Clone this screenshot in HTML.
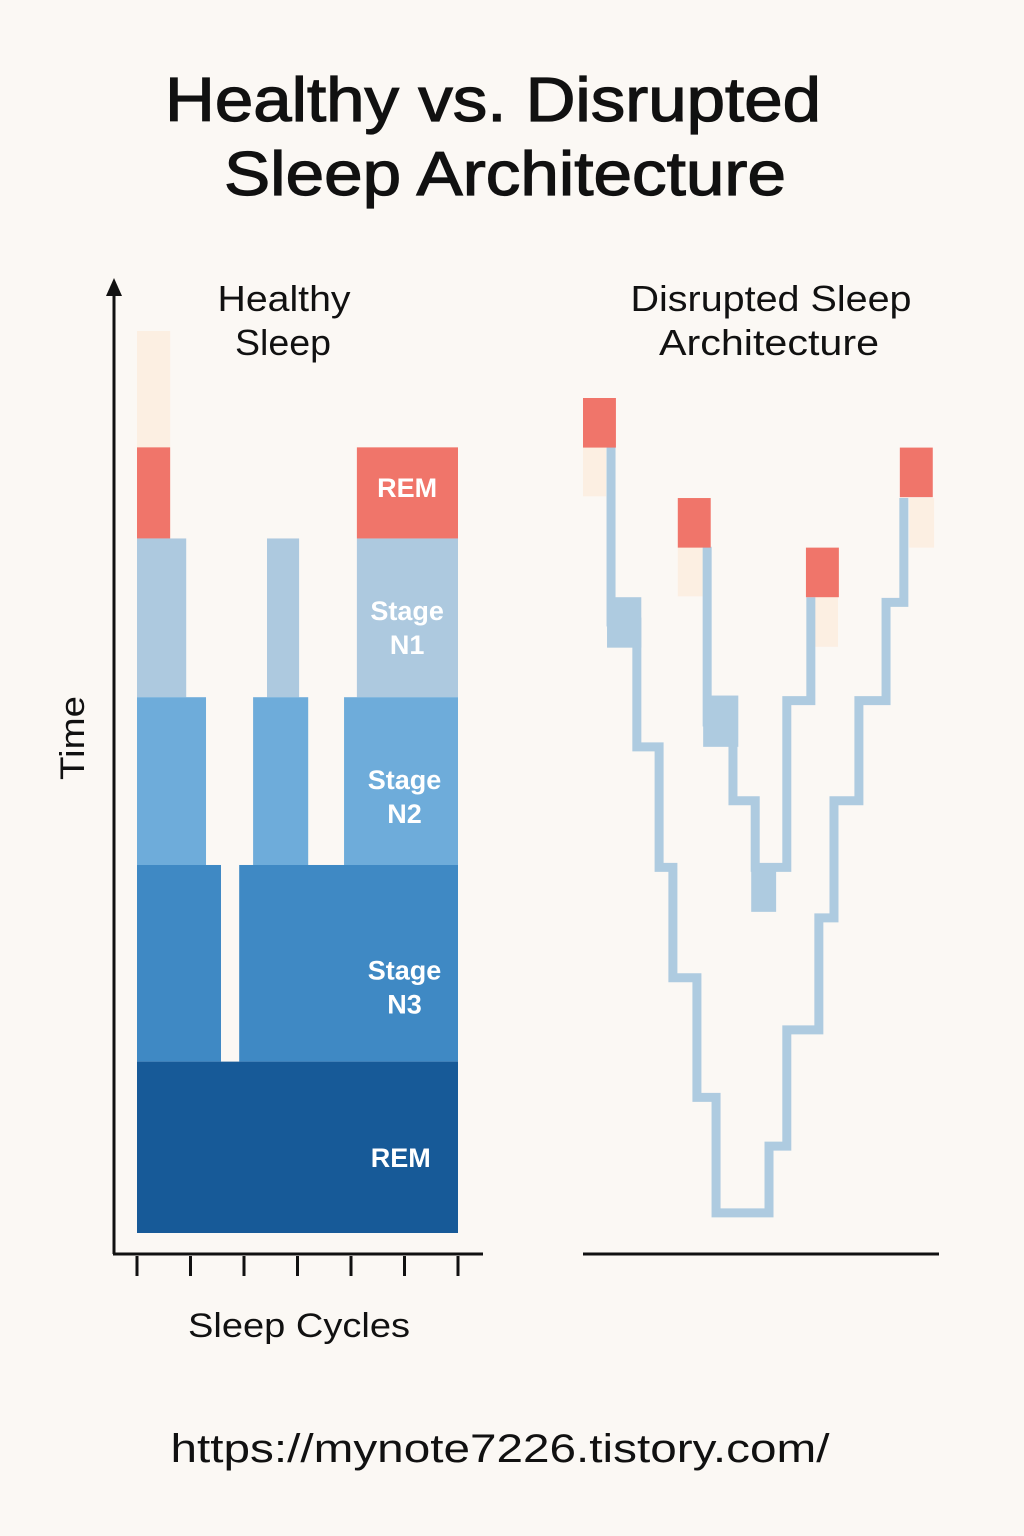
<!DOCTYPE html>
<html><head><meta charset="utf-8"><style>
html,body{margin:0;padding:0;background:#fbf8f4;}
svg{display:block;font-family:"Liberation Sans",sans-serif;}
</style></head><body>
<svg id="chart" width="1024" height="1536" viewBox="0 0 1024 1536" xmlns="http://www.w3.org/2000/svg">
<rect x="0" y="0" width="1024" height="1536" fill="#fbf8f4"/>
<g fill="#111" stroke="#111" stroke-width="1.2" font-size="62" text-anchor="middle">
<text x="493" y="121" textLength="656" lengthAdjust="spacingAndGlyphs">Healthy vs. Disrupted</text>
<text x="505" y="195" textLength="562" lengthAdjust="spacingAndGlyphs">Sleep Architecture</text>
</g>
<g fill="#111" font-size="36" text-anchor="middle">
<text x="284" y="311" textLength="133" lengthAdjust="spacingAndGlyphs">Healthy</text>
<text x="283" y="355" textLength="96" lengthAdjust="spacingAndGlyphs">Sleep</text>
<text x="771" y="311" textLength="281" lengthAdjust="spacingAndGlyphs">Disrupted Sleep</text>
<text x="769" y="355" textLength="220" lengthAdjust="spacingAndGlyphs">Architecture</text>
</g>
<g id="left"></g>
<g id="right"></g>
<g stroke="#111" fill="none">
<line x1="114" y1="290" x2="114" y2="1254" stroke-width="3"/>
<polygon points="114,278 106,296 122,296" fill="#111" stroke="none"/>
<line x1="113" y1="1254" x2="483" y2="1254" stroke-width="3"/>
<line x1="583" y1="1254" x2="939" y2="1254" stroke-width="3"/>
<g id="ticks"></g>
</g>
<text transform="translate(84,738) rotate(-90)" text-anchor="middle" font-size="34" fill="#111" textLength="84" lengthAdjust="spacingAndGlyphs">Time</text>
<text x="299" y="1337" text-anchor="middle" font-size="34" fill="#111" textLength="222" lengthAdjust="spacingAndGlyphs">Sleep Cycles</text>
<text x="500" y="1462" text-anchor="middle" font-size="40" fill="#111" textLength="659" lengthAdjust="spacingAndGlyphs">https://mynote7226.tistory.com/</text>
</svg>
<script>
// ---- Left chart data (x in sleep cycles 0-6, y in % of night 0-100)
const leftStages = ["awake","rem-top","n1","n1","n1","rem-top","n2","n2","n2","n3","n3","rem"];
const leftX0 = [0.00,0.00,0.00,2.43,4.11,4.11,0.00,2.17,3.87,0.00,1.91,0.00];
const leftX1 = [0.62,0.62,0.92,3.03,6.00,6.00,1.29,3.20,6.00,1.57,6.00,6.00];
const leftY0 = [87.1,77.0,59.4,59.4,59.4,77.0,40.8,40.8,40.8,19.0,19.0,0.0];
const leftY1 = [100,87.1,77.0,77.0,77.0,87.1,59.4,59.4,59.4,40.8,40.8,19.0];
const tickValues = [0,1,2,3,4,5,6];
const leftLabels = [["REM"],["Stage","N1"],["Stage","N2"],["Stage","N3"],["REM"]];
const leftLabelX = [5.05,5.05,5.0,5.0,4.93];
const leftLabelY = [82.6,67.2,48.45,27.35,8.3];

// ---- Right chart data (x in hours 0-8, y in depth units 0-10)
const outerT = [0.63,0.63,1.21,1.21,1.71,1.71,2.02,2.02,2.56,2.56,2.99,2.99,4.18,4.18,4.58,4.58,5.30,5.30,5.64,5.64,6.20,6.20,6.81,6.81,7.21,7.21];
const outerD = [0.56,2.62,2.62,4.08,4.08,5.49,5.49,6.78,6.78,8.18,8.18,9.53,9.53,8.75,8.75,7.39,7.39,6.08,6.08,4.71,4.71,3.54,3.54,2.39,2.39,1.17];
const innerT = [2.79,2.79,3.37,3.37,3.87,3.87,4.58,4.58,5.12,5.12];
const innerD = [1.74,3.79,3.79,4.71,4.71,5.49,5.49,3.54,3.54,2.33];
const blockT0 = [0.54,2.70,3.78];
const blockT1 = [1.31,3.49,4.34];
const blockD0 = [2.33,3.48,5.49];
const blockD1 = [2.92,4.08,6.01];
const remT = [0.00,2.13,5.01,7.12];
const remD = [0.00,1.17,1.75,0.58];
const paleT = [0.00,2.13,5.21,7.33];
const paleD = [0.57,1.74,2.33,1.17];
const paleW = [0.52,0.56,0.52,0.56];
const remW = 0.74, markH = 0.58;

const NS = "http://www.w3.org/2000/svg";
const colors = {awake:"#fcefe2","rem-top":"#f0756a",n1:"#adc9df",n2:"#6eacda",n3:"#3f89c4",rem:"#175a98"};
const lx = v => 137 + v*53.5;
const ly = v => 1233 - v*9.02;
const rx = v => 583 + v*44.5;
const ry = v => 398 + v*85.5;

const left = document.getElementById('left');
for (let i=0;i<leftStages.length;i++){
  const r = document.createElementNS(NS,'rect');
  
  
  r.setAttribute('x', lx(leftX0[i])); r.setAttribute('width', lx(leftX1[i])-lx(leftX0[i]));
  r.setAttribute('y', ly(leftY1[i])); r.setAttribute('height', ly(leftY0[i])-ly(leftY1[i]));
  r.setAttribute('fill', colors[leftStages[i]]);
  left.appendChild(r);
}
for (let i=0;i<leftLabels.length;i++){
  const t = document.createElementNS(NS,'text');
  
  
  t.setAttribute('x', lx(leftLabelX[i])); t.setAttribute('y', ly(leftLabelY[i]));
  t.setAttribute('text-anchor','middle'); t.setAttribute('fill','#fff');
  t.setAttribute('font-size','27'); t.setAttribute('font-weight','bold');
  const lines = leftLabels[i];
  lines.forEach((s,k)=>{
    const sp = document.createElementNS(NS,'tspan');
    sp.setAttribute('x', lx(leftLabelX[i]));
    sp.setAttribute('dy', k===0 ? (lines.length>1 ? -7 : 9) : 34);
    sp.textContent = s; t.appendChild(sp);
  });
  left.appendChild(t);
}
const ticks = document.getElementById('ticks');
tickValues.forEach(v=>{
  const l = document.createElementNS(NS,'line');
  
  
  l.setAttribute('x1', lx(v)); l.setAttribute('x2', lx(v));
  l.setAttribute('y1', 1256); l.setAttribute('y2', 1276); l.setAttribute('stroke-width','3');
  ticks.appendChild(l);
});

const right = document.getElementById('right');
function addRect(name,x,y,w,h,fill){
  const r = document.createElementNS(NS,'rect');
  
  
  r.setAttribute('x',x); r.setAttribute('y',y); r.setAttribute('width',w); r.setAttribute('height',h); r.setAttribute('fill',fill);
  right.appendChild(r);
}
for (let i=0;i<paleT.length;i++) addRect('wake-marker-'+i, rx(paleT[i]), ry(paleD[i]), rx(paleW[i])-rx(0), ry(markH)-ry(0), '#fcefe2');
for (let i=0;i<blockT0.length;i++) addRect('light-sleep-block-'+i, rx(blockT0[i]), ry(blockD0[i]), rx(blockT1[i])-rx(blockT0[i]), ry(blockD1[i])-ry(blockD0[i]), '#aecbe0');
function addPath(name,T,D){
  const p = document.createElementNS(NS,'polyline');
  
  
  p.setAttribute('points', T.map((t,i)=>rx(t)+','+ry(D[i])).join(' '));
  p.setAttribute('fill','none'); p.setAttribute('stroke','#aecbe0'); p.setAttribute('stroke-width','9');
  p.setAttribute('stroke-linejoin','miter'); p.setAttribute('stroke-linecap','butt');
  right.appendChild(p);
}
addPath('outer-hypnogram-line', outerT, outerD);
addPath('inner-hypnogram-line', innerT, innerD);
for (let i=0;i<remT.length;i++) addRect('rem-marker-'+i, rx(remT[i]), ry(remD[i]), rx(remW)-rx(0), ry(markH)-ry(0), '#f0756a');
</script>
</body></html>
